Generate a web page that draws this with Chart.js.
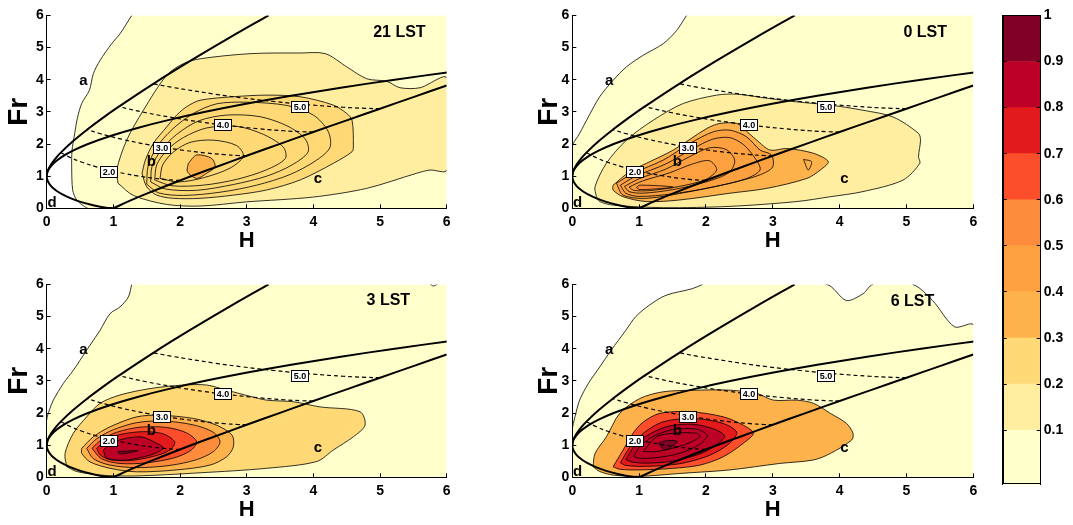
<!DOCTYPE html>
<html>
<head>
<meta charset="utf-8">
<script src="https://cdn.jsdelivr.net/npm/chart.js@4.4.1/dist/chart.umd.min.js"></script>
<style>
  html, body { margin: 0; padding: 0; background: #fff; }
  body { width: 1073px; height: 525px; position: relative; overflow: hidden; }
  canvas { position: absolute; }
</style>
</head>
<body>
<canvas id="p21" width="461" height="254" style="left:0px;top:0px"></canvas>
<canvas id="p00" width="461" height="254" style="left:526px;top:0px"></canvas>
<canvas id="p03" width="461" height="254" style="left:0px;top:269px"></canvas>
<canvas id="p06" width="461" height="254" style="left:526px;top:269px"></canvas>
<canvas id="cbar" width="83" height="500" style="left:990px;top:0px"></canvas>
<script>
// ---------- axes ----------
const axisTicks = [0, 1, 2, 3, 4, 5, 6];
const cbarTicks = [0.1, 0.2, 0.3, 0.4, 0.5, 0.6, 0.7, 0.8, 0.9, 1];
const cbarEdges = [-0.018, 0.1, 0.2, 0.3, 0.4, 0.5, 0.6, 0.7, 0.8, 0.9, 1.0];

// ---------- regime boundaries (H, Fr) ----------
// critical flow over the obstacle (both branches, nose at Fr = 1)
const criticalCurve = [[1.0,0],[0.890,0.02],[0.798,0.05],[0.682,0.1],[0.507,0.2],[0.373,0.3],[0.266,0.4],
  [0.180,0.5],[0.113,0.6],[0.062,0.7],[0.027,0.8],[0.007,0.9],[0,1.0],[0.007,1.1],[0.026,1.2],[0.103,1.4],
  [0.228,1.6],[0.401,1.8],[0.619,2.0],[0.956,2.25],[1.362,2.5],[1.837,2.75],[2.380,3.0],[2.990,3.25],
  [3.667,3.5],[4.411,3.75],[5.220,4.0],[6.096,4.25]];
// stationary upstream jump
const jumpCurve = [[0,1],[0.004,1.075],[0.020,1.186],[0.067,1.369],[0.133,1.551],[0.211,1.732],[0.397,2.092],
  [0.608,2.449],[0.837,2.806],[1.081,3.162],[1.600,3.873],[2.153,4.583],[2.731,5.292],[3.328,6.0]];
// fully blocked flow
const blockCurve = [[1,0],[1.25,0.237],[1.5,0.456],[2,0.866],[2.5,1.255],[3,1.633],[3.5,2.005],[4,2.372],
  [4.5,2.736],[5,3.098],[5.5,3.459],[6,3.819]];
// constant jump strength
const jump2 = [[2.0,0.866],[1.912,0.873],[1.779,0.894],[1.595,0.937],[1.364,1.007],[1.176,1.078],[1.014,1.149],
  [0.746,1.290],[0.531,1.432],[0.360,1.573],[0.211,1.732]];
const jump3 = [[3.0,1.633],[2.868,1.642],[2.669,1.668],[2.393,1.720],[2.045,1.806],[1.763,1.893],[1.521,1.979],
  [1.118,2.153],[0.797,2.326],[0.608,2.449]];
const jump4 = [[4.0,2.372],[3.824,2.382],[3.558,2.412],[3.191,2.472],[2.727,2.572],[2.351,2.672],[2.028,2.772],
  [1.491,2.972],[1.081,3.162]];
const jump5 = [[5.0,3.098],[4.781,3.110],[4.448,3.143],[3.989,3.210],[3.409,3.322],[2.939,3.434],[2.535,3.546],
  [1.864,3.769],[1.600,3.873]];
const jumpCurves = [jump2, jump3, jump4, jump5];

const jumpLabels = ['2.0', '3.0', '4.0', '5.0'];
const jumpLabelH = [0.93, 1.72, 2.64, 3.79];
const jumpLabelFr = [1.15, 1.9, 2.62, 3.18];

const regionNames = ['a', 'b', 'c', 'd'];
const regionH = [0.55, 1.57, 4.07, 0.08];
const regionFr = [3.95, 1.46, 0.93, 0.17];

const panelTitles = ['21 LST', '0 LST', '3 LST', '6 LST'];
const titleH = [5.29, 5.28, 5.125, 5.09];
const titleFr = [5.45, 5.45, 5.5, 5.48];

// ---------- frequency contours, 21 LST ----------
const p21_c0 = [[1.275,6],[1.1,5.43],[0.975,5.12],[0.8,4.6],[0.7,4.19],[0.64,3.67],[0.525,3.26],[0.46,2.8],
  [0.42,2.33],[0.38,1.8],[0.375,1.29],[0.39,0.57],[0.45,0.26],[0.57,0.05],[0.62,0],[6,0],[6,6]];
const p21_c1 = [[1.07,0.78],[1.05,1.19],[1.2,2.12],[1.45,3.05],[1.8,4.14],[2.05,4.5],[2.3,4.65],[3.05,4.81],
  [3.8,4.83],[4.18,4.81],[4.5,4.4],[4.8,4.03],[5.1,3.95],[5.3,3.75],[5.6,3.75],[6,4.05],[6,1.19],[5.75,1.19],
  [5.55,1.09],[4.8,0.62],[4.0,0.35],[3.0,0.2],[2.3,0.07],[1.8,0.12],[1.3,0.4]];
const p21_c2 = [[1.43,1.09],[1.48,1.5],[1.6,2.02],[1.8,2.53],[1.95,2.9],[2.1,3.16],[2.3,3.36],[2.8,3.47],
  [3.3,3.52],[3.8,3.47],[4.3,3.21],[4.5,2.95],[4.58,2.74],[4.6,1.91],[4.58,1.76],[4.3,1.4],[3.8,0.88],
  [3.3,0.57],[2.8,0.41],[2.3,0.31],[1.9,0.31],[1.65,0.41],[1.5,0.67]];
const p21_c3 = [[2.125,1.4],[2.25,1.66],[2.475,1.55],[2.525,1.29],[2.4,1.09],[2.25,0.93],[2.11,1.14]];
const p21_k1 = [[1.5,0.75],[1.52,1.3],[1.65,1.9],[1.88,2.45],[2.2,2.95],[2.55,3.25],[3.0,3.3],[3.6,3.2],
  [4.0,2.9],[4.22,2.4],[4.25,1.9],[4.05,1.5],[3.65,1.05],[3.15,0.72],[2.6,0.5],[2.05,0.4],[1.68,0.48]];
const p21_k2 = [[1.56,0.82],[1.58,1.3],[1.72,1.82],[1.95,2.3],[2.28,2.72],[2.7,2.9],[3.2,2.85],[3.62,2.55],
  [3.88,2.15],[3.92,1.75],[3.68,1.35],[3.3,1.0],[2.8,0.74],[2.25,0.56],[1.78,0.6]];
const p21_k3 = [[1.62,0.88],[1.65,1.35],[1.8,1.8],[2.05,2.2],[2.4,2.5],[2.85,2.55],[3.25,2.3],[3.55,1.9],
  [3.58,1.55],[3.3,1.2],[2.85,0.9],[2.35,0.72],[1.88,0.7]];
const p21_k4 = [[1.7,0.93],[1.74,1.35],[1.9,1.75],[2.15,2.05],[2.5,2.12],[2.85,1.95],[2.95,1.62],[2.75,1.25],
  [2.35,0.95],[1.98,0.82]];
const p21Filled = [p21_c0, p21_c1, p21_c2, p21_c3];
const p21Levels = [0, 1, 2, 3];
const p21Lines = [p21_k1, p21_k2, p21_k3, p21_k4];

// ---------- frequency contours, 0 LST ----------
const p00_c0 = [[1.71,6],[1.56,5.53],[1.36,5.12],[1.06,4.76],[0.81,4.4],[0.61,3.98],[0.41,3.47],[0.24,2.84],
  [0.11,2.33],[0,1.91],[0,0],[6,0],[6,6]];
const p00_c1 = [[0.36,0.36],[0.34,0.67],[0.51,1.4],[0.81,2.12],[1.21,2.74],[1.66,3.26],[2.16,3.52],[2.46,3.55],
  [2.86,3.44],[3.36,3.31],[3.86,3.21],[4.35,3.05],[4.8,2.84],[5.18,2.33],[5.21,2.12],[5.18,1.6],[5.2,1.4],
  [4.95,0.88],[4.35,0.52],[3.86,0.36],[3.36,0.21],[2.36,0.06],[1.36,0.02],[0.61,0.1],[0.41,0.21]];
const p00_c3 = [[0.61,0.72],[0.86,1.14],[1.11,1.4],[1.51,1.81],[2.01,2.48],[2.21,2.64],[2.46,2.64],[2.56,2.48],
  [2.76,2.12],[2.96,1.81],[3.21,1.86],[3.61,1.71],[3.83,1.45],[3.71,1.19],[3.51,0.93],[2.91,0.62],[2.36,0.47],
  [1.61,0.26],[1.11,0.21],[0.76,0.36],[0.61,0.57]];
const p00_c4 = [[0.66,0.78],[0.91,1.09],[1.36,1.5],[1.76,2.02],[2.11,2.38],[2.36,2.43],[2.61,2.22],[2.81,1.81],
  [2.98,1.66],[3.0,1.29],[2.81,1.04],[2.36,0.78],[1.76,0.52],[1.11,0.31],[0.76,0.41]];
const p00_c5 = [[0.96,0.65],[1.01,0.72],[1.51,0.66],[1.01,0.58]];
const p00_k1 = [[0.72,0.72],[0.95,1.0],[1.4,1.38],[1.8,1.85],[2.1,2.15],[2.35,2.2],[2.55,2.0],[2.72,1.6],
  [2.81,1.2],[2.6,0.92],[2.1,0.66],[1.5,0.45],[1.0,0.37],[0.8,0.47]];
const p00_k2 = [[0.78,0.68],[1.0,0.92],[1.4,1.22],[1.75,1.6],[2.05,1.88],[2.3,1.83],[2.43,1.5],[2.35,1.12],
  [2.0,0.82],[1.5,0.58],[1.05,0.47],[0.85,0.52]];
const p00_k3 = [[0.85,0.66],[1.05,0.85],[1.45,1.1],[1.8,1.38],[2.05,1.48],[2.16,1.2],[2.0,0.9],[1.6,0.68],
  [1.15,0.55],[0.92,0.56]];
const p00_k4 = [[3.46,1.52],[3.58,1.45],[3.53,1.19]];
const p00Filled = [p00_c0, p00_c1, p00_c3, p00_c4, p00_c5];
const p00Levels = [0, 1, 3, 4, 5];
const p00Lines = [p00_k1, p00_k2, p00_k3, p00_k4];

// ---------- frequency contours, 3 LST ----------
const p03_c0 = [[1.275,6],[1.225,5.61],[1.1,5.3],[0.95,5.09],[0.8,4.57],[0.65,4.11],[0.5,3.64],[0.4,3.33],
  [0.25,2.92],[0.1,2.4],[0.04,2.09],[0,1.78],[0,0],[6,0],[6,6],[5.86,6],[5.8,5.95],[5.75,6]];
const p03_c2 = [[0.3,0.33],[0.275,0.74],[0.4,1.37],[0.6,1.88],[0.8,2.3],[1.1,2.56],[1.55,2.76],[2.05,2.87],
  [2.4,2.87],[2.7,2.71],[3.05,2.52],[3.3,2.4],[3.7,2.35],[4.1,2.19],[4.7,2.04],[4.775,1.62],[4.6,1.26],
  [4.3,0.85],[4.05,0.49],[3.3,0.28],[2.3,0.14],[1.3,0.04],[0.8,0.07],[0.45,0.18]];
const p03_c3 = [[0.525,0.9],[0.7,1.26],[0.95,1.57],[1.35,1.88],[1.7,1.93],[2.2,1.83],[2.55,1.62],[2.78,1.31],
  [2.8,0.95],[2.7,0.64],[2.45,0.38],[1.95,0.23],[1.35,0.17],[0.95,0.28],[0.65,0.48],[0.525,0.75]];
const p03_c5 = [[0.6,0.9],[0.75,1.2],[1.0,1.48],[1.35,1.7],[1.75,1.75],[2.2,1.63],[2.5,1.4],[2.6,1.1],
  [2.5,0.8],[2.25,0.55],[1.85,0.37],[1.35,0.3],[0.95,0.38],[0.7,0.58]];
const p03_c6 = [[0.68,0.9],[0.82,1.17],[1.05,1.4],[1.4,1.56],[1.8,1.55],[2.1,1.38],[2.25,1.1],[2.15,0.82],
  [1.9,0.6],[1.5,0.45],[1.1,0.43],[0.82,0.58]];
const p03_c7 = [[0.75,0.9],[0.88,1.15],[1.1,1.33],[1.45,1.42],[1.75,1.35],[1.92,1.1],[1.85,0.85],[1.6,0.65],
  [1.25,0.52],[0.95,0.55],[0.8,0.7]];
const p03_c8 = [[0.85,0.85],[1.0,1.1],[1.4,1.26],[1.65,1.06],[1.75,0.9],[1.55,0.69],[1.2,0.54],[0.9,0.59]];
const p03_c9 = [[1.07,0.8],[1.37,0.83],[1.1,0.72]];
const p03Filled = [p03_c0, p03_c2, p03_c3, p03_c5, p03_c6, p03_c7, p03_c8, p03_c9];
const p03Levels = [0, 2, 3, 5, 6, 7, 8, 9];
const p03Lines = [];

// ---------- frequency contours, 6 LST ----------
const p06_c0 = [[1.95,6],[1.8,5.87],[1.4,5.66],[1.15,5.35],[0.95,5.0],[0.8,4.57],[0.58,3.95],[0.41,3.43],
  [0.24,2.92],[0.11,2.4],[0.04,1.88],[0,1.47],[0,0],[6,0],[6,4.73],[5.72,4.68],[5.39,5.5],[5.09,6],[4.5,6],
  [4.35,5.71],[4.1,5.5],[3.8,6]];
const p06_c3 = [[0.31,0.33],[0.34,0.74],[0.51,1.26],[0.71,1.99],[1.01,2.45],[1.36,2.66],[1.86,2.71],[2.36,2.71],
  [2.76,2.61],[3.01,2.4],[3.36,2.4],[3.61,2.3],[3.86,1.99],[4.1,1.68],[4.2,1.37],[4.18,1.16],[3.86,0.74],
  [3.61,0.54],[3.1,0.43],[2.36,0.23],[1.61,0.12],[1.01,0.03],[0.61,0.07],[0.41,0.18]];
const p06_c6 = [[0.61,0.33],[0.76,0.85],[0.91,1.37],[1.05,1.7],[1.31,1.99],[1.76,2.04],[2.26,1.88],[2.56,1.62],
  [2.71,1.37],[2.56,1.06],[2.26,0.64],[1.91,0.38],[1.51,0.28],[1.01,0.23],[0.71,0.25]];
const p06_c7 = [[0.72,0.45],[0.85,0.9],[1.05,1.35],[1.35,1.72],[1.8,1.83],[2.25,1.68],[2.46,1.4],[2.35,1.05],
  [2.05,0.68],[1.6,0.42],[1.1,0.34],[0.8,0.37]];
const p06_c8 = [[0.8,0.55],[0.92,0.95],[1.12,1.3],[1.42,1.58],[1.8,1.65],[2.12,1.5],[2.28,1.28],[2.15,1.0],
  [1.9,0.72],[1.5,0.5],[1.1,0.44],[0.88,0.48]];
const p06_c9 = [[1.29,1.06],[1.41,1.14],[1.57,1.11],[1.39,0.85]];
const p06_k1 = [[0.92,0.65],[1.02,0.98],[1.22,1.28],[1.5,1.48],[1.85,1.5],[2.02,1.3],[1.9,1.02],[1.6,0.74],
  [1.2,0.6],[0.98,0.6]];
const p06_k2 = [[1.06,0.8],[1.26,1.26],[1.51,1.37],[1.86,1.37],[1.91,1.26],[1.66,1.0],[1.26,0.8]];
const p06Filled = [p06_c0, p06_c3, p06_c6, p06_c7, p06_c8, p06_c9];
const p06Levels = [0, 3, 6, 7, 8, 9];
const p06Lines = [p06_k1, p06_k2];

// ---------- styles ----------
const bandColors = ['#FFFFCC', '#FFEDA0', '#FED976', '#FEB24C', '#FDA03F', '#FD8D3C',
                    '#FC4E2A', '#E31A1C', '#BD0026', '#800026'];
const FONT = '"Liberation Sans", Arial, Helvetica, sans-serif';

const panels = [
  { id: 'p21', plotLeft: 46.7,  plotTop: 15,  plotW: 400, plotH: 193.3, frPad: 2.5,
    filled: p21Filled, levels: p21Levels, lines: p21Lines },
  { id: 'p00', plotLeft: 572.3, plotTop: 15,  plotW: 401, plotH: 193.3, frPad: 6.5,
    filled: p00Filled, levels: p00Levels, lines: p00Lines },
  { id: 'p03', plotLeft: 46.7,  plotTop: 284, plotW: 400, plotH: 193.3, frPad: 2.5,
    filled: p03Filled, levels: p03Levels, lines: p03Lines },
  { id: 'p06', plotLeft: 572.3, plotTop: 284, plotW: 401, plotH: 193.3, frPad: 6.5,
    filled: p06Filled, levels: p06Levels, lines: p06Lines }
];

// ---------- helpers ----------
const toClosed = poly => {
  const pts = poly.map(p => ({ x: p[0], y: p[1] }));
  pts.push({ x: poly[0][0], y: poly[0][1] });
  return pts;
};
const toOpen = poly => poly.map(p => ({ x: p[0], y: p[1] }));

// contour segments that run along the frame are not stroked
function frameSegment(ctx) {
  const a = ctx.p0.parsed, b = ctx.p1.parsed;
  const lo = axisTicks[0], hi = axisTicks[axisTicks.length - 1];
  const eq = (u, v) => Math.abs(u - v) < 1e-9;
  const vert = eq(a.x, b.x) && (eq(a.x, lo) || eq(a.x, hi));
  const horz = eq(a.y, b.y) && (eq(a.y, lo) || eq(a.y, hi));
  return (vert || horz) ? 'rgba(0,0,0,0)' : undefined;
}

function buildDatasets(filled, levels, lines) {
  const layers = [];
  filled.forEach((poly, i) => layers.push({
    data: toClosed(poly), showLine: true, fill: 'shape',
    backgroundColor: bandColors[levels[i]], borderColor: 'rgba(0,0,0,0)', borderWidth: 0,
    pointRadius: 0, tension: 0.3
  }));
  filled.concat(lines).forEach(poly => layers.push({
    data: toClosed(poly), showLine: true, fill: false,
    borderColor: '#000', borderWidth: 0.8, pointRadius: 0, tension: 0.3,
    segment: { borderColor: frameSegment }
  }));
  [criticalCurve, jumpCurve, blockCurve].forEach(c => layers.push({
    data: toOpen(c), showLine: true, fill: false,
    borderColor: '#000', borderWidth: 2, pointRadius: 0, tension: 0.4
  }));
  jumpCurves.forEach(c => layers.push({
    data: toOpen(c), showLine: true, fill: false,
    borderColor: '#000', borderWidth: 1.2, borderDash: [4, 3], pointRadius: 0, tension: 0.4
  }));
  layers.forEach((d, i) => { d.order = layers.length - i; });
  return layers;
}

const annotate = {
  id: 'annotate',
  afterDatasetsDraw(chart, args, o) {
    const { ctx } = chart;
    const xs = chart.scales.x, ys = chart.scales.y;
    ctx.save();
    ctx.textAlign = 'center';
    ctx.textBaseline = 'middle';
    ctx.font = `bold 9px ${FONT}`;
    jumpLabels.forEach((t, i) => {
      const px = xs.getPixelForValue(jumpLabelH[i]);
      const py = ys.getPixelForValue(jumpLabelFr[i]);
      const w = Math.round(ctx.measureText(t).width) + 4, h = 11;
      const bx = Math.round(px - w / 2) + 0.5, by = Math.round(py - h / 2) + 0.5;
      ctx.fillStyle = '#fff';
      ctx.fillRect(bx, by, w, h);
      ctx.strokeStyle = '#000';
      ctx.lineWidth = 1;
      ctx.strokeRect(bx, by, w, h);
      ctx.fillStyle = '#000';
      ctx.fillText(t, bx + w / 2, by + h / 2 + 0.5);
    });
    ctx.fillStyle = '#000';
    ctx.font = `bold 15px ${FONT}`;
    regionNames.forEach((t, i) => {
      ctx.fillText(t, xs.getPixelForValue(regionH[i]), ys.getPixelForValue(regionFr[i]));
    });
    ctx.font = `bold 16px ${FONT}`;
    ctx.fillText(panelTitles[o.index], xs.getPixelForValue(titleH[o.index]), ys.getPixelForValue(titleFr[o.index]));
    ctx.restore();
  }
};

const tickFont = { family: FONT, size: 14, weight: 'bold' };
const setTicks = values => scale => { scale.ticks = values.map(v => ({ value: v })); };

panels.forEach((p, idx) => {
  const canvas = document.getElementById(p.id);
  const left = parseFloat(canvas.style.left), top = parseFloat(canvas.style.top);
  const yW = p.plotLeft - left;
  const padTop = p.plotTop - top;
  const padRight = canvas.width - yW - p.plotW;
  const xH = canvas.height - padTop - p.plotH;
  new Chart(canvas, {
    type: 'scatter',
    data: { datasets: buildDatasets(p.filled, p.levels, p.lines) },
    options: {
      responsive: false, animation: false, events: [],
      layout: { padding: { left: 0, top: padTop, right: padRight, bottom: 0 } },
      plugins: { legend: { display: false }, tooltip: { enabled: false }, annotate: { index: idx } },
      scales: {
        x: {
          type: 'linear', min: axisTicks[0], max: axisTicks[axisTicks.length - 1],
          afterBuildTicks: setTicks(axisTicks),
          afterFit: s => { s.height = xH; },
          ticks: { font: tickFont, color: '#000', padding: 9, maxRotation: 0 },
          grid: { drawOnChartArea: false, drawTicks: true, tickLength: -4, color: '#000', z: 1 },
          border: { display: true, color: '#000', width: 1, z: 1 },
          title: { display: true, text: 'H', color: '#000', font: { family: FONT, size: 22, weight: 'bold', lineHeight: 1.2 },
                   padding: { top: 0, bottom: 0 } }
        },
        y: {
          type: 'linear', min: axisTicks[0], max: axisTicks[axisTicks.length - 1],
          afterBuildTicks: setTicks(axisTicks),
          afterFit: s => { s.width = yW; },
          ticks: { font: tickFont, color: '#000', padding: 7 },
          grid: { drawOnChartArea: false, drawTicks: true, tickLength: -4, color: '#000', z: 1 },
          border: { display: true, color: '#000', width: 1, z: 1 },
          title: { display: true, text: 'Fr', color: '#000', font: { family: FONT, size: 28, weight: 'bold', lineHeight: 1.2 },
                   padding: { top: p.frPad, bottom: 0 } }
        }
      }
    },
    plugins: [annotate]
  });
});

// ---------- colour bar ----------
const frame = {
  id: 'frame',
  afterDraw(chart) {
    const { ctx, chartArea: a } = chart;
    ctx.save();
    ctx.strokeStyle = '#000';
    ctx.lineWidth = 1;
    ctx.strokeRect(Math.round(a.left) + 0.5, Math.round(a.top) + 0.5,
                   Math.round(a.right - a.left) - 1, Math.round(a.bottom - a.top) - 1);
    ctx.restore();
  }
};

const cbCanvas = document.getElementById('cbar');
new Chart(cbCanvas, {
  type: 'bar',
  data: {
    labels: [''],
    datasets: bandColors.map((c, i) => ({
      data: [[cbarEdges[i], cbarEdges[i + 1]]],
      backgroundColor: c, borderWidth: 0,
      barPercentage: 1, categoryPercentage: 1, grouped: false
    }))
  },
  options: {
    responsive: false, animation: false, events: [],
    layout: { padding: { left: 12.7, top: 15, right: 0, bottom: 11.7 } },
    plugins: { legend: { display: false }, tooltip: { enabled: false } },
    scales: {
      x: { display: false },
      y: {
        position: 'right', min: cbarEdges[0], max: cbarEdges[cbarEdges.length - 1],
        afterBuildTicks: setTicks(cbarTicks),
        afterFit: s => { s.width = 83 - 12.7 - 38; },
        ticks: { font: tickFont, color: '#000', padding: 7, callback: v => String(v) },
        grid: { drawOnChartArea: false, drawTicks: true, tickLength: -4, color: '#000', z: 1 },
        border: { display: true, color: '#000', z: 1 }
      },
      y2: {
        position: 'left', min: cbarEdges[0], max: cbarEdges[cbarEdges.length - 1],
        afterBuildTicks: setTicks(cbarTicks),
        afterFit: s => { s.width = 0; },
        ticks: { display: false },
        grid: { drawOnChartArea: false, drawTicks: true, tickLength: -4, color: '#000', z: 1 },
        border: { display: true, color: '#000', z: 1 }
      }
    }
  },
  plugins: [frame]
});
</script>
</body>
</html>
